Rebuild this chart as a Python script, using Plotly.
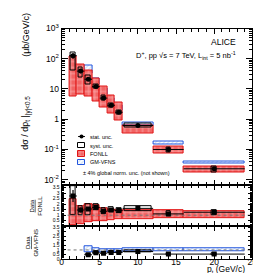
import plotly.graph_objects as go

# ---------------- data ----------------
bin_lo = [1, 2, 3, 4, 5, 6, 7, 8, 12, 16]
bin_hi = [2, 3, 4, 5, 6, 7, 8, 12, 16, 24]
pt = [1.5, 2.5, 3.5, 4.5, 5.5, 6.5, 7.5, 10, 14, 20]
xsec = [126, 39, 21, 12, 5.0, 2.9, 1.7, 0.62, 0.10, 0.023]
stat_rel = [0.2, 0.15, 0.1, 0.08, 0.08, 0.08, 0.08, 0.08, 0.12, 0.15]
syst_up = [160, 52, 28, 14, 5.9, 3.4, 2.0, 0.72, 0.12, 0.028]
syst_lo = [40, 24, 14, 10, 4.2, 2.4, 1.4, 0.52, 0.08, 0.018]
syst_w = [0.6, 0.6, 0.6, 0.6, 0.6, 0.6, 0.6, 3.6, 0.6, 0.6]

fonll_up = [120, 65, 40, 22, 12, 6.2, 3.5, 0.64, 0.125, 0.027]
fonll_lo = [5.8, 6.5, 5.8, 4.0, 2.5, 1.5, 0.9, 0.33, 0.075, 0.017]

gm_up = [None, None, 62, 22, 10, 4.9, 2.75, 0.81, 0.19, 0.040]
gm_lo = [None, None, 32, 14, 6.5, 3.3, 1.9, 0.62, 0.15, 0.034]

r_fonll = [2.74, 1.47, 1.56, 1.71, 1.36, 1.47, 1.42, 1.62, 1.12, 1.27]
r_fonll_sup = [3.6, 1.86, 2.0, 2.0, 1.6, 1.7, 1.65, 1.85, 1.35, 1.5]
r_fonll_slo = [0.98, 0.98, 1.05, 1.42, 1.12, 1.25, 1.2, 1.4, 0.9, 1.05]
fonll_band_up = [2.44, 1.86, 2.0, 1.9, 1.6, 1.56, 1.5, 1.42, 1.42, 1.33]
fonll_band_lo = [0.1, 0.19, 0.4, 0.48, 0.46, 0.54, 0.6, 0.68, 0.75, 0.75]

r_gm = [None, None, 0.46, 0.68, 0.64, 0.71, 0.71, 0.82, 0.54, 0.54]
r_gm_sup = [None, None, 0.56, 0.8, 0.75, 0.83, 0.83, 0.95, 0.65, 0.65]
r_gm_slo = [None, None, 0.37, 0.57, 0.53, 0.59, 0.59, 0.69, 0.43, 0.43]
gm_band_up = [None, None, 1.43, 1.18, 1.1, 1.1, 1.1, 1.14, 1.14, 1.14]
gm_band_lo = [None, None, 0.71, 0.78, 0.78, 0.78, 0.78, 0.82, 0.89, 0.89]

ytick_vals = [0.01, 0.1, 1, 10, 100, 1000]
ytick_text = ["10<sup>-2</sup>", "10<sup>-1</sup>", "1", "10", "10<sup>2</sup>", "10<sup>3</sup>"]
xtick_vals = [0, 5, 10, 15, 20, 25]
rtick_vals = [0, 0.5, 1, 1.5, 2, 2.5, 3, 3.5]
rtick_text = ["0", "0.5", "1", "1.5", "2", "2.5", "3", "3.5"]

# ---------------- geometry ----------------
W, H = 261, 273
FONT = "Liberation Sans, Arial, sans-serif"
RED_BG, RED_FG, RED_LINE = "#f26464", "#ffe4e4", "#e01515"
BLUE_BG, BLUE_FG, BLUE_LINE = "white", "#8cb8f0", "#2255dd"


def px(x):
    return x / W


def py(y):
    return 1 - y / H


centers = [(a + b) / 2 for a, b in zip(bin_lo, bin_hi)]
widths = [b - a for a, b in zip(bin_lo, bin_hi)]

fig = go.Figure()


def band(xa, ya, lo, up, bg, fg, line, shape, size, sol):
    ii = [i for i in range(len(lo)) if lo[i] is not None]
    fig.add_trace(go.Bar(
        x=[centers[i] for i in ii], base=[lo[i] for i in ii],
        y=[up[i] - lo[i] for i in ii], width=[widths[i] for i in ii],
        marker=dict(color=bg, line=dict(color=line, width=1),
                    pattern=dict(shape=shape, fgcolor=fg, bgcolor=bg, size=size, solidity=sol)),
        xaxis=xa, yaxis=ya, showlegend=False, hoverinfo="skip"))


def syst(xa, ya, lo, up, w):
    ii = [i for i in range(len(lo)) if lo[i] is not None]
    fig.add_trace(go.Bar(
        x=[pt[i] for i in ii], base=[lo[i] for i in ii],
        y=[up[i] - lo[i] for i in ii], width=[w[i] for i in ii],
        marker=dict(color="rgba(0,0,0,0)", line=dict(color="black", width=1)),
        xaxis=xa, yaxis=ya, showlegend=False, hoverinfo="skip"))


def points(xa, ya, vals, sym, size, err=None):
    ii = [i for i in range(len(vals)) if vals[i] is not None]
    ey = dict(type="data", array=[err[i] for i in ii], visible=True, width=0,
              thickness=1.2, color="black") if err else dict(visible=False)
    fig.add_trace(go.Scatter(
        x=[pt[i] for i in ii], y=[vals[i] for i in ii], mode="markers",
        marker=dict(symbol=sym, size=size, color="black"),
        error_x=dict(type="data", array=[pt[i] - bin_lo[i] for i in ii],
                     arrayminus=[pt[i] - bin_lo[i] for i in ii], visible=True, width=0,
                     thickness=1, color="black"),
        error_y=ey, xaxis=xa, yaxis=ya, showlegend=False, hoverinfo="skip"))


def unity(xa, ya):
    fig.add_trace(go.Scatter(x=[0, 25], y=[1, 1], mode="lines",
                             line=dict(color="#777777", width=1, dash="dot"),
                             xaxis=xa, yaxis=ya, showlegend=False, hoverinfo="skip"))


# main panel
band("x", "y", gm_lo, gm_up, BLUE_BG, BLUE_FG, BLUE_LINE, "/", 3, 0.35)
band("x", "y", fonll_lo, fonll_up, RED_BG, RED_FG, RED_LINE, "+", 6, 0.3)
syst("x", "y", syst_lo, syst_up, syst_w)
points("x", "y", xsec, "circle", 5, [v * s for v, s in zip(xsec, stat_rel)])

# middle panel: data / FONLL
band("x2", "y2", fonll_band_lo, fonll_band_up, RED_BG, RED_FG, RED_LINE, "+", 6, 0.3)
unity("x2", "y2")
syst("x2", "y2", r_fonll_slo, r_fonll_sup, syst_w)
points("x2", "y2", r_fonll, "square", 5, [v * s for v, s in zip(r_fonll, stat_rel)])

# bottom panel: data / GM-VFNS
unity("x3", "y3")
band("x3", "y3", gm_band_lo, gm_band_up, BLUE_BG, BLUE_FG, BLUE_LINE, "/", 3, 0.35)
syst("x3", "y3", r_gm_slo, r_gm_sup, syst_w)
points("x3", "y3", r_gm, "square", 5)

# ---------------- legend glyphs (pixel-coordinate helper axis) ----------------
leg_x, leg_w = 73.5, 7
leg_rows = [126.7, 136, 145, 153.5]
fig.add_trace(go.Scatter(x=[leg_x], y=[leg_rows[0]], mode="markers",
                         marker=dict(symbol="circle", size=4, color="black"),
                         error_x=dict(type="constant", value=leg_w / 2, width=0, thickness=1, color="black"),
                         xaxis="x4", yaxis="y4", showlegend=False, hoverinfo="skip"))
fig.add_trace(go.Bar(x=[leg_x], base=[leg_rows[1] - 3], y=[6], width=[leg_w],
                     marker=dict(color="rgba(0,0,0,0)", line=dict(color="black", width=1)),
                     xaxis="x4", yaxis="y4", showlegend=False, hoverinfo="skip"))
fig.add_trace(go.Bar(x=[leg_x], base=[leg_rows[2] - 3], y=[6], width=[leg_w],
                     marker=dict(color=RED_BG, line=dict(color=RED_LINE, width=1),
                                 pattern=dict(shape="+", fgcolor=RED_FG, bgcolor=RED_BG, size=4, solidity=0.3)),
                     xaxis="x4", yaxis="y4", showlegend=False, hoverinfo="skip"))
fig.add_trace(go.Bar(x=[leg_x], base=[leg_rows[3] - 3], y=[6], width=[leg_w],
                     marker=dict(color=BLUE_BG, line=dict(color=BLUE_LINE, width=1),
                                 pattern=dict(shape="/", fgcolor=BLUE_FG, bgcolor=BLUE_BG, size=3, solidity=0.35)),
                     xaxis="x4", yaxis="y4", showlegend=False, hoverinfo="skip"))

leg_labels = ["stat. unc.", "syst. unc.", "FONLL", "GM-VFNS"]

# ---------------- layout ----------------
xdom = [px(53), px(249)]
axis_common = dict(showline=True, linecolor="black", linewidth=1, mirror="ticks",
                   ticks="inside", tickcolor="black", zeroline=False, showgrid=False)
xcommon = dict(axis_common, range=[0, 25], domain=xdom, tickvals=xtick_vals, ticklen=5,
               minor=dict(ticks="inside", ticklen=3, dtick=1, tickcolor="black"))

minor_log = [m * 10 ** e for e in range(-3, 3) for m in range(2, 10)]

annotations = [
    dict(text="ALICE", x=px(234), y=py(29), xanchor="right", yanchor="middle",
         font=dict(size=8.5)),
    dict(text="D<sup>+</sup>, pp √s = 7 TeV, L<sub>int</sub> = 5 nb<sup>-1</sup>", x=px(234), y=py(43),
         xanchor="right", yanchor="middle", font=dict(size=7.5)),
    dict(text="± 4% global norm. unc. (not shown)", x=px(73), y=py(164), xanchor="left",
         yanchor="middle", font=dict(size=5.5)),
    dict(text="dσ / dp<sub>t</sub> |<sub>|y|<0.5</sub>", x=px(17), y=py(113), textangle=-90,
         xanchor="center", yanchor="middle", font=dict(size=9)),
    dict(text="(μb/GeV/c)", x=px(17), y=py(22), textangle=-90,
         xanchor="center", yanchor="middle", font=dict(size=9)),
    dict(text="<u>Data</u><br>FONLL", x=px(27), y=py(198), textangle=-90,
         xanchor="center", yanchor="middle", font=dict(size=6)),
    dict(text="<u>Data</u><br>GM-VFNS", x=px(23), y=py(236), textangle=-90,
         xanchor="center", yanchor="middle", font=dict(size=6)),
    dict(text="p<sub>t</sub> (GeV/c)", x=px(244), y=py(264), xanchor="right",
         yanchor="middle", font=dict(size=8.5)),
]
for lab, row in zip(leg_labels, leg_rows):
    annotations.append(dict(text=lab, x=px(80), y=py(row), xanchor="left", yanchor="middle",
                            font=dict(size=5.5)))
for a in annotations:
    a.update(xref="paper", yref="paper", showarrow=False)

fig.update_layout(
    width=W, height=H, margin=dict(l=0, r=0, t=0, b=0),
    paper_bgcolor="white", plot_bgcolor="rgba(0,0,0,0)",
    font=dict(family=FONT, color="black"),
    barmode="overlay", bargap=0, showlegend=False,
    xaxis=dict(xcommon, anchor="y", showticklabels=False),
    xaxis2=dict(xcommon, anchor="y2", showticklabels=False, matches="x"),
    xaxis3=dict(xcommon, anchor="y3", showticklabels=True, tickfont=dict(size=8.5),
                ticklabelstandoff=-5),
    yaxis=dict(axis_common, type="log", range=[-2.18, 3], domain=[py(177), py(15)], anchor="x",
               tickvals=ytick_vals, ticktext=ytick_text, ticklen=6, tickfont=dict(size=8.5),
               minor=dict(ticks="inside", ticklen=3, tickvals=minor_log, tickcolor="black")),
    yaxis2=dict(axis_common, range=[0, 3.72], domain=[py(219.5), py(177)], anchor="x2",
                tickvals=rtick_vals[1:], ticktext=rtick_text[1:], ticklen=4, tickfont=dict(size=5),
                minor=dict(ticks="inside", ticklen=2, dtick=0.1, tickcolor="black")),
    yaxis3=dict(axis_common, range=[0, 3.63], domain=[py(253.3), py(219.5)], anchor="x3",
                tickvals=rtick_vals, ticktext=rtick_text, ticklen=4, tickfont=dict(size=5),
                minor=dict(ticks="inside", ticklen=2, dtick=0.1, tickcolor="black")),
    xaxis4=dict(domain=[0, 1], range=[0, W], visible=False, anchor="y4", fixedrange=True),
    yaxis4=dict(domain=[0, 1], range=[H, 0], visible=False, anchor="x4", fixedrange=True),
    annotations=annotations,
)

fig.write_html("out.html")
